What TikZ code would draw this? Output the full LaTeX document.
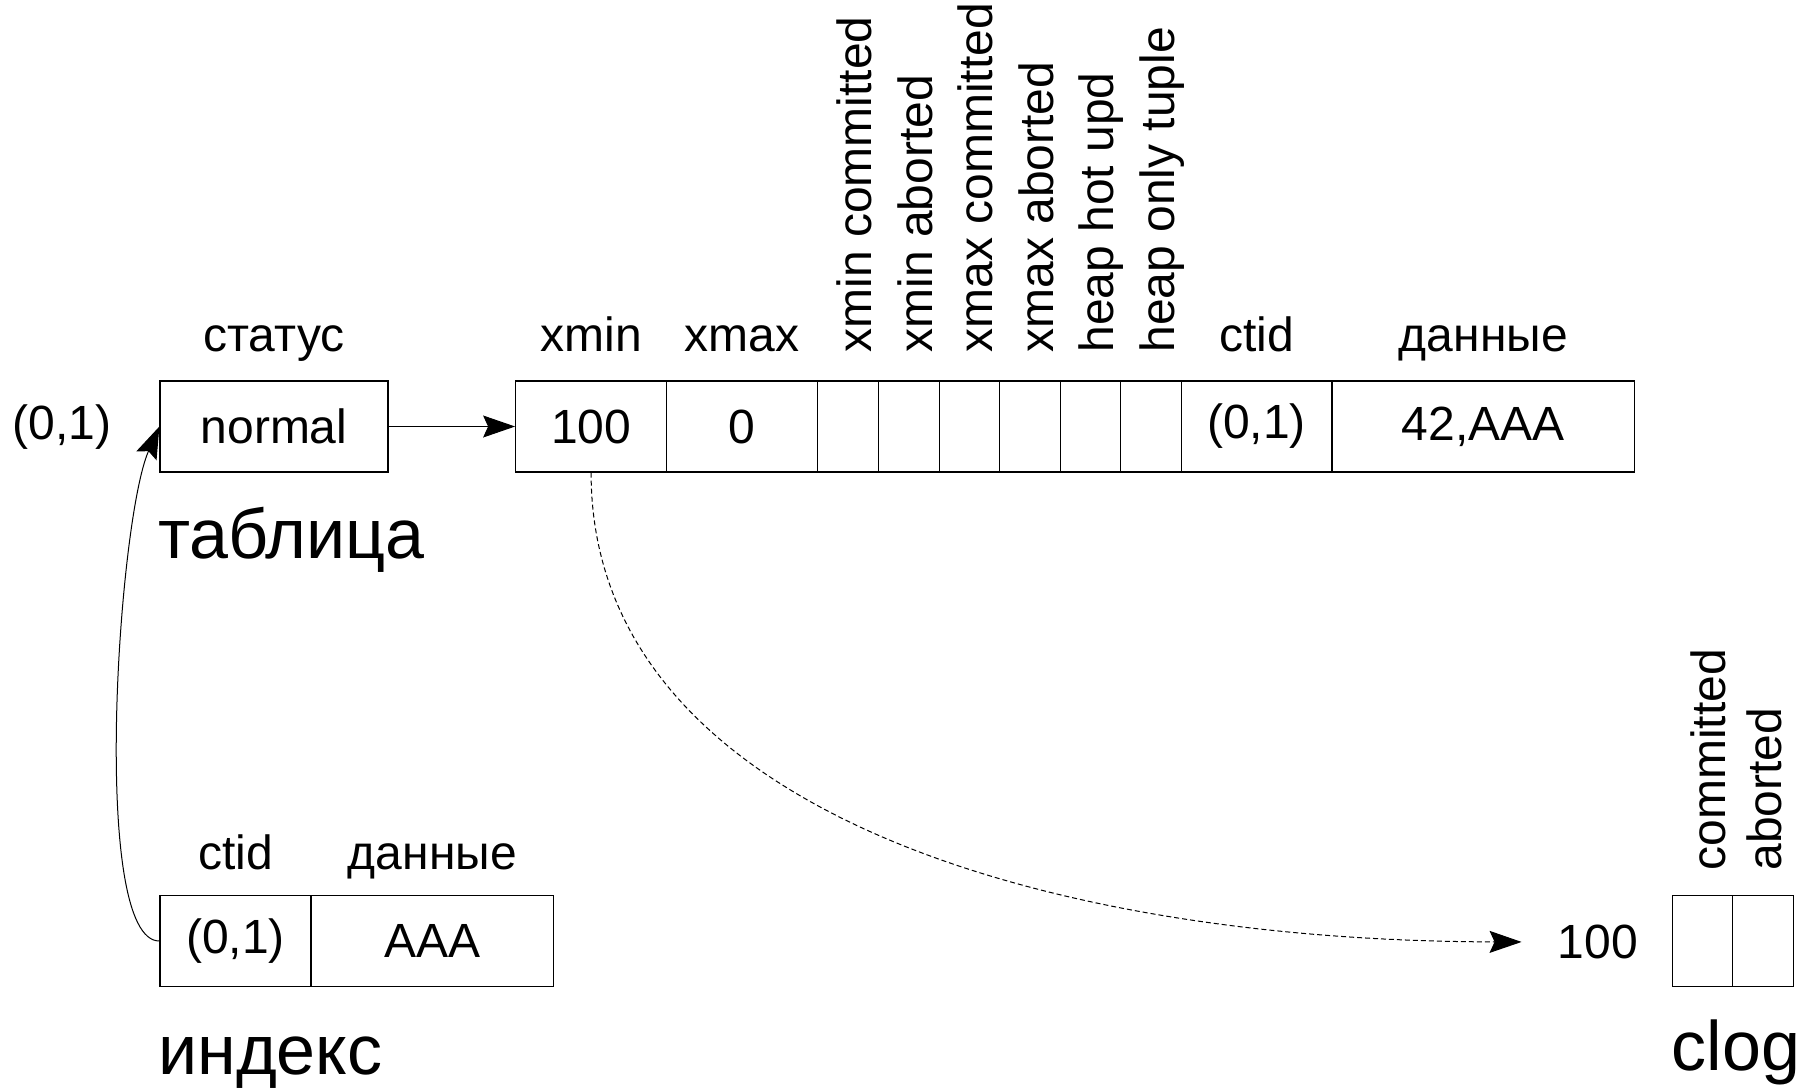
\documentclass[tikz,border=0pt]{standalone}
\usepackage{fontspec}
\setmainfont{Liberation Sans}
\usetikzlibrary{arrows.meta}
\begin{document}
\begin{tikzpicture}[x=0.5pt,y=-0.5pt,
  cell/.style={draw=black, line width=0.6pt, minimum height=45.5pt, inner sep=0pt, font=\fontsize{24}{28}\selectfont},
  lbl/.style={font=\fontsize{24}{28}\selectfont, inner sep=0pt, anchor=base},
  rlbl/.style={font=\fontsize{24}{28}\selectfont, inner sep=0pt, rotate=90, anchor=base west},
  big/.style={font=\fontsize{35}{40}\selectfont, inner sep=0pt, anchor=base west},
  tip/.style={-{Stealth[length=16pt,width=11pt,inset=2.5pt]}},
  conn/.style={line width=0.5pt}
]
\useasboundingbox (0,0) rectangle (1805,1089);

% table: status
\node[cell, minimum width=114pt] (normal) at (274,426.5) {normal};
\node[lbl] (st) at (274,351) {статус};
\node[font=\fontsize{24}{28}\selectfont, inner sep=0pt] (ptr) at (62,427) {(0,1)};
\node[big] (tab) at (158,558) {таблица};

% tuple cells
\node[cell, minimum width=75.4pt] (xmin) at (591.1,426.5) {100};
\node[cell, minimum width=75.45pt] (xmax) at (742,426.5) {0};
\node[cell, minimum width=30.5pt] (f1) at (847.9,426.5) {};
\node[cell, minimum width=30.5pt] (f2) at (908.9,426.5) {};
\node[cell, minimum width=29.9pt] (f3) at (969.3,426.5) {};
\node[cell, minimum width=30.5pt] (f4) at (1029.7,426.5) {};
\node[cell, minimum width=29.9pt] (f5) at (1090.2,426.5) {};
\node[cell, minimum width=30.5pt] (f6) at (1150.6,426.5) {};
\node[cell, minimum width=75.4pt] (ctid) at (1256.5,426.5) {(0,1)};
\node[cell, minimum width=151.4pt] (data) at (1483.3,426.5) {42,AAA};

\node[lbl] (lxmin) at (591.1,351) {xmin};
\node[lbl] (lxmax) at (742,351) {xmax};
\node[lbl] (lctid) at (1256.5,351) {ctid};
\node[lbl] (ldata) at (1483.3,351) {данные};

\node[rlbl] (r1) at (871,353) {xmin committed};
\node[rlbl] (r2) at (932,353) {xmin aborted};
\node[rlbl] (r3) at (992,353) {xmax committed};
\node[rlbl] (r4) at (1053,353) {xmax aborted};
\node[rlbl] (r5) at (1113,353) {heap hot upd};
\node[rlbl] (r6) at (1174,353) {heap only tuple};

% index
\node[cell, minimum width=75.5pt] (ictid) at (235.5,941) {(0,1)};
\node[cell, minimum width=121.35pt] (idata) at (432.4,941) {AAA};
\node[lbl] (lictid) at (235.5,869) {ctid};
\node[lbl] (lidata) at (432.4,869) {данные};
\node[big] (idx) at (158,1074) {индекс};

% clog
\node[font=\fontsize{24}{28}\selectfont, inner sep=0pt] (c100) at (1598,942) {100};
\node[cell, minimum width=29.95pt] (cc) at (1702.7,941) {};
\node[cell, minimum width=30.5pt] (ca) at (1763.1,941) {};
\node[rlbl] (rc) at (1725,871) {committed};
\node[rlbl] (ra) at (1781,871) {aborted};
\node[big] (clog) at (1671.5,1070.6) {clog};

% connectors
\draw[conn, tip] (normal.east) -- (xmin.west);
\draw[conn, tip, dash pattern=on 2.5pt off 1.5pt, shorten >=18pt]
  (xmin.south) .. controls (591,806) and (1036,941) .. (c100.west);
\draw[conn, tip] (ictid.west) .. controls (90,941) and (118,520) .. (normal.west);
\end{tikzpicture}
\end{document}
